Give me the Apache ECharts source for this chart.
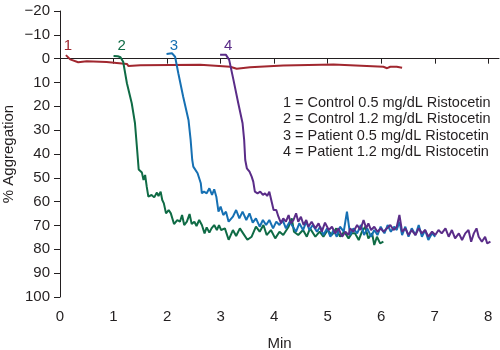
<!DOCTYPE html>
<html>
<head>
<meta charset="utf-8">
<script src="https://cdn.jsdelivr.net/npm/echarts@6/dist/echarts.min.js"></script>
<style>
  html, body { margin: 0; padding: 0; background: #fff; }
  #chart { width: 500px; height: 350px; }
</style>
</head>
<body>
<div id="chart"></div>
<script>
// x: minutes, y: % aggregation (axis inverted)
const xTicks = [0, 1, 2, 3, 4, 5, 6, 7, 8];

const seriesNames = ['1', '2', '3', '4'];
const legendLines = [
  '1 = Control 0.5 mg/dL Ristocetin',
  '2 = Control 1.2 mg/dL Ristocetin',
  '3 = Patient 0.5 mg/dL Ristocetin',
  '4 = Patient 1.2 mg/dL Ristocetin'
];
// label position for the curve numbers [min, %]
const numberLabelPos = [[0.15, -5.5], [1.15, -5.5], [2.13, -5.5], [3.14, -5.5]];

const control05 = [[0.11,-1.5],[0.19,0.3],[0.34,1.5],[0.5,1.1],[0.87,1.4],[1.25,2.2],[1.28,3.1],[1.5,2.8],[2.62,2.6],[3.18,3.4],[3.3,4.2],[3.55,3.6],[4.17,2.9],[5.11,2.4],[6.04,3.4],[6.11,4.0],[6.17,3.4],[6.29,3.4],[6.39,3.8]];

const control12 = [[1.0,-1.1],[1.08,-1.0],[1.13,-0.6],[1.18,1.3],[1.25,10.3],[1.34,18.7],[1.40,27],[1.44,38],[1.47,46.5],[1.53,47.8],[1.56,50.9],[1.59,48.8],[1.62,53.7],[1.65,57.9],[1.71,57.2],[1.76,58.2],[1.81,56.2],[1.84,57.6],[1.88,55.8],[1.91,59.3],[1.94,60.7],[1.98,64.9],[2.03,63.5],[2.07,64.9],[2.13,69.4],[2.19,67.7],[2.24,68.4],[2.28,65.6],[2.32,69.8],[2.37,68.4],[2.42,65.2],[2.46,69.4],[2.51,68.4],[2.55,70.2],[2.60,67.7],[2.65,69.8],[2.70,73.3],[2.74,70.8],[2.79,73.0],[2.83,71.2],[2.88,69.8],[2.93,71.9],[2.97,69.8],[3.01,71.9],[3.08,71.2],[3.15,76],[3.23,71.9],[3.29,74.4],[3.36,71.2],[3.43,73.6],[3.5,76],[3.58,74.7],[3.66,70.5],[3.73,72.6],[3.8,69.8],[3.86,74],[3.94,71.9],[4.02,75.4],[4.1,72.6],[4.17,74],[4.27,70.5],[4.33,67],[4.37,72.6],[4.45,74],[4.54,71.9],[4.61,74.7],[4.67,71.2],[4.77,74.7],[4.85,72.6],[4.92,74.7],[5.0,71.9],[5.08,74],[5.16,71.2],[5.23,74.7],[5.31,72.6],[5.39,75.4],[5.45,73.3],[5.51,73.3],[5.58,76.1],[5.64,72.6],[5.7,70.5],[5.76,75.4],[5.83,73.3],[5.87,78.2],[5.92,74.7],[5.98,77.5],[6.04,76.8]];

const patient05 = [[1.99,-2],[2.09,-2.3],[2.15,-0.8],[2.21,6.1],[2.3,15.9],[2.4,25.7],[2.44,34.1],[2.47,42.5],[2.49,45.3],[2.52,46],[2.57,48.1],[2.6,50.2],[2.63,52.3],[2.65,56.5],[2.69,55.8],[2.74,56.5],[2.79,54.4],[2.84,57.2],[2.88,54.8],[2.92,57.9],[2.96,64.2],[3.0,62.1],[3.05,65.6],[3.1,64.2],[3.15,68.4],[3.23,66.3],[3.29,63.5],[3.35,67],[3.41,64.2],[3.48,67.7],[3.54,64.9],[3.6,68.8],[3.66,67],[3.73,70.5],[3.79,67.7],[3.85,69.8],[3.91,67.7],[3.98,71.2],[4.04,68.4],[4.1,69.8],[4.16,67.7],[4.22,71.2],[4.29,68.4],[4.35,70.5],[4.41,72.6],[4.47,69.1],[4.54,71.9],[4.6,68.4],[4.66,71.9],[4.72,69.8],[4.8,72.6],[4.86,70.5],[4.92,74],[4.99,71.2],[5.05,74.7],[5.11,71.9],[5.17,74.7],[5.23,70.5],[5.3,72.6],[5.36,64.2],[5.42,74],[5.48,71.2],[5.55,73.3],[5.62,69.8],[5.68,74],[5.74,71.2],[5.81,74.7],[5.87,71.9],[5.93,74],[5.99,70.5],[6.06,73.3],[6.12,69.8],[6.18,72.6],[6.24,70.5],[6.29,71.9],[6.34,68.4],[6.39,74],[6.45,70.5],[6.51,74.7],[6.57,71.2],[6.64,74],[6.7,69.8],[6.76,74.7],[6.82,71.9],[6.88,76.1],[6.95,73.3],[7.01,74.7]];

const patient12 = [[2.99,-1.6],[3.1,-1.6],[3.16,0.5],[3.24,8.9],[3.33,18.7],[3.41,27.1],[3.44,34.1],[3.46,42.5],[3.49,46],[3.54,47.4],[3.58,49.5],[3.61,51.6],[3.64,55.8],[3.69,56.5],[3.74,55.8],[3.79,57.2],[3.83,56.5],[3.87,57.6],[3.91,55.8],[3.96,60.7],[3.99,63.5],[4.04,63.5],[4.08,66.3],[4.13,69.1],[4.17,67],[4.22,68.4],[4.27,65.6],[4.31,69.1],[4.36,67.7],[4.41,64.9],[4.45,68.4],[4.5,66.3],[4.55,69.8],[4.6,67.7],[4.64,70.5],[4.7,68.4],[4.77,71.2],[4.83,69.1],[4.89,72.6],[4.95,68.8],[5.02,71.9],[5.08,70.5],[5.14,73.3],[5.2,71.2],[5.27,74.7],[5.33,72.6],[5.39,74],[5.42,71.2],[5.48,72.6],[5.55,69.8],[5.61,71.9],[5.67,67.7],[5.72,71.2],[5.76,69.1],[5.81,71.9],[5.87,70.5],[5.93,72.6],[5.99,71.2],[6.04,72.6],[6.11,71.2],[6.17,69.8],[6.23,71.9],[6.29,70.5],[6.34,65.6],[6.39,72.6],[6.45,71.2],[6.51,74],[6.57,71.9],[6.64,74],[6.7,71.2],[6.76,73.3],[6.82,71.9],[6.88,74.7],[6.95,72.6],[7.01,74],[7.07,71.9],[7.13,73.3],[7.2,71.2],[7.26,74.7],[7.32,71.9],[7.38,75.4],[7.45,73.3],[7.51,76.1],[7.57,73.3],[7.63,71.9],[7.68,76.8],[7.73,73.3],[7.78,71.2],[7.82,74.7],[7.88,76.8],[7.94,74.7],[7.98,77.5],[8.04,76.8]];

const seriesData = [control05, control12, patient05, patient12];
const colors = ['#a1272f', '#0f6b45', '#1670b3', '#5a2c88'];

const FONT = '"Liberation Sans", Arial, sans-serif';
const TEXT = '#231f20';

const chart = echarts.init(document.getElementById('chart'), null, { renderer: 'canvas' });

const option = {
  animation: false,
  backgroundColor: '#fff',
  grid: { left: 60, right: 1, top: 11, bottom: 53, containLabel: false, outerBoundsMode: 'none' },
  xAxis: {
    type: 'value',
    min: 0,
    max: 8.2,
    name: 'Min',
    nameLocation: 'middle',
    nameGap: 39,
    nameMoveOverlap: false,
    nameTextStyle: { fontFamily: FONT, fontSize: 15, color: TEXT },
    splitLine: { show: false },
    axisLine: { show: true, lineStyle: { color: TEXT, width: 1 } },
    axisTick: { show: true, customValues: xTicks, length: 5, lineStyle: { color: TEXT } },
    axisLabel: { customValues: xTicks, margin: 12, fontFamily: FONT, fontSize: 15, color: TEXT }
  },
  yAxis: {
    type: 'value',
    inverse: true,
    min: -20,
    max: 100,
    interval: 10,
    name: '% Aggregation',
    nameLocation: 'middle',
    nameGap: 44,
    nameMoveOverlap: false,
    nameTextStyle: { fontFamily: FONT, fontSize: 15, color: TEXT },
    splitLine: { show: false },
    axisLine: { show: true, lineStyle: { color: TEXT, width: 1 } },
    axisTick: { show: true, length: 6, lineStyle: { color: TEXT } },
    axisLabel: {
      margin: 10,
      fontFamily: FONT,
      fontSize: 15,
      color: TEXT,
      formatter: v => (v < 0 ? '\u2212' + Math.abs(v) : String(v))
    }
  },
  series: seriesData.map((d, i) => ({
    name: seriesNames[i],
    type: 'line',
    data: d,
    showSymbol: false,
    symbol: 'none',
    lineStyle: { color: colors[i], width: 2 },
    itemStyle: { color: colors[i] },
    z: 2 + i,
    markPoint: {
      symbol: 'circle',
      symbolSize: 0,
      silent: true,
      label: {
        show: true,
        position: 'inside',
        formatter: seriesNames[i],
        fontFamily: FONT,
        fontSize: 15,
        color: colors[i]
      },
      data: [{ coord: numberLabelPos[i] }]
    }
  })),
  // key text on the right
  graphic: [{
    type: 'text',
    left: 283,
    top: 95,
    style: {
      text: legendLines.join('\n'),
      fontFamily: FONT,
      fontSize: 14.5,
      lineHeight: 16.3,
      fill: TEXT
    }
  }]
};

chart.setOption(option);
</script>
</body>
</html>
